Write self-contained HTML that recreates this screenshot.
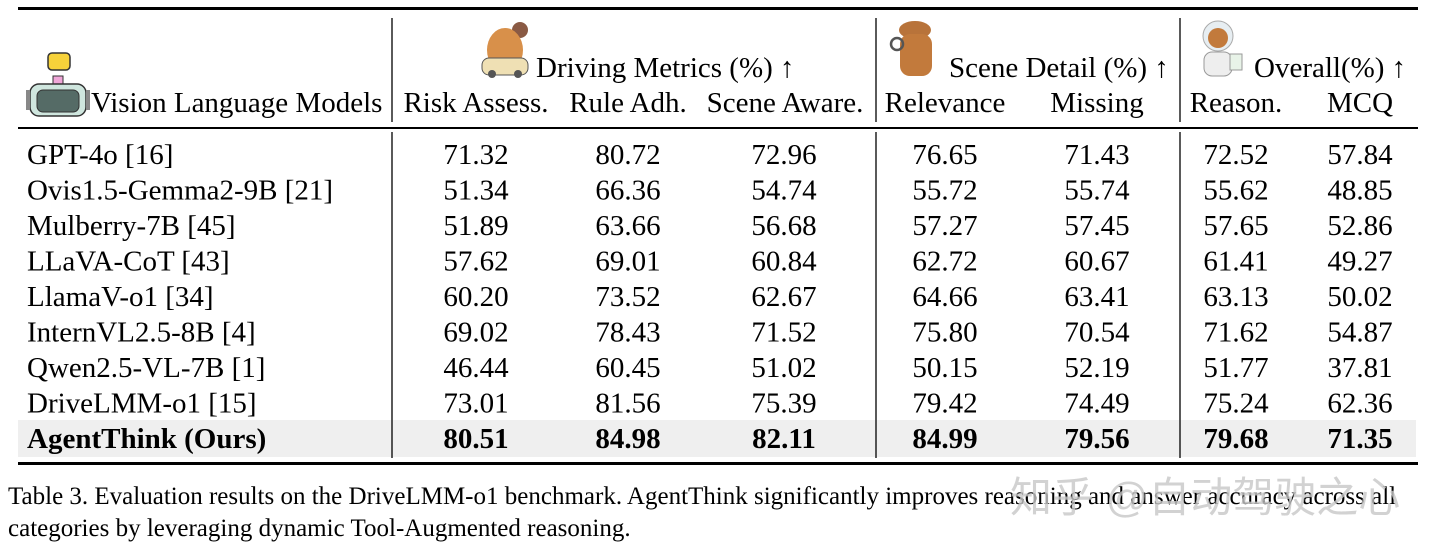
<!DOCTYPE html>
<html><head><meta charset="utf-8"><style>
html,body{margin:0;padding:0;background:#fff;}
body{width:1440px;height:548px;overflow:hidden;position:relative;font-family:"Liberation Serif",serif;}
svg{position:absolute;left:0;top:0;}
svg text{font-family:"Liberation Serif",serif;}
svg text.wm{font-family:"Liberation Sans","Noto Sans CJK SC",sans-serif;}
</style></head><body>
<svg width="1440" height="548" viewBox="0 0 1440 548">
<rect x="18" y="420" width="1398" height="37" fill="#efefef"/>
<rect x="18" y="7" width="1400" height="3" fill="#000"/>
<rect x="18" y="127" width="1400" height="2" fill="#000"/>
<rect x="18" y="462" width="1400" height="3" fill="#000"/>
<g stroke="#000" stroke-width="1.3">
<line x1="392" y1="18" x2="392" y2="122"/><line x1="392" y1="132" x2="392" y2="458"/>
<line x1="876" y1="18" x2="876" y2="122"/><line x1="876" y1="132" x2="876" y2="458"/>
<line x1="1180" y1="18" x2="1180" y2="122"/><line x1="1180" y1="132" x2="1180" y2="458"/>
</g>
<g>
<rect x="48" y="53" width="22" height="17" rx="4" fill="#f7d23a" stroke="#333" stroke-width="1.5"/>
<rect x="53" y="76" width="10" height="8" fill="#f0a6d8" stroke="#333"/>
<rect x="30" y="84" width="56" height="32" rx="9" fill="#cfe6de" stroke="#333" stroke-width="1.5"/>
<rect x="37" y="90" width="42" height="22" rx="6" fill="#556b66" stroke="#333"/>
<rect x="26" y="90" width="4" height="20" fill="#888"/><rect x="86" y="90" width="4" height="20" fill="#888"/>
</g>
<g>
<circle cx="520" cy="30" r="8" fill="#8a5a44"/>
<ellipse cx="505" cy="50" rx="18" ry="22" fill="#d8904a"/>
<rect x="482" y="58" width="46" height="17" rx="7" fill="#efe0b4" stroke="#555"/>
<circle cx="492" cy="74" r="4" fill="#555"/><circle cx="518" cy="74" r="4" fill="#555"/>
</g>
<g>
<ellipse cx="915" cy="30" rx="16" ry="9" fill="#b8733a"/>
<rect x="900" y="34" width="32" height="42" rx="10" fill="#c27a3c"/>
<circle cx="897" cy="44" r="6" fill="none" stroke="#555" stroke-width="2.5"/>
</g>
<g>
<circle cx="1218" cy="36" r="15" fill="#e7eef2" stroke="#aaa"/>
<circle cx="1218" cy="38" r="10" fill="#c27a3c"/>
<rect x="1204" y="52" width="28" height="24" rx="8" fill="#eee" stroke="#999"/>
<rect x="1230" y="54" width="12" height="16" fill="#e8f3e8" stroke="#999"/>
</g>
<g font-size="29" fill="#000">
<text x="91" y="112">Vision Language Models</text>
<text x="536" y="77">Driving Metrics (%) ↑</text>
<text x="949" y="77">Scene Detail (%) ↑</text>
<text x="1254" y="77">Overall(%) ↑</text>
<g text-anchor="middle">
<text x="476" y="112">Risk Assess.</text>
<text x="628" y="112">Rule Adh.</text>
<text x="785" y="112">Scene Aware.</text>
<text x="945" y="112">Relevance</text>
<text x="1097" y="112">Missing</text>
<text x="1236" y="112">Reason.</text>
<text x="1360" y="112">MCQ</text>
</g>
</g>
<g id="body" font-size="29" fill="#000"></g>
<g font-size="25" fill="#000">
<text x="8" y="504">Table 3. Evaluation results on the DriveLMM-o1 benchmark. AgentThink significantly improves reasoning and answer accuracy across all</text>
<text x="8" y="536">categories by leveraging dynamic Tool-Augmented reasoning.</text>
</g>
<text class="wm" x="1010" y="512" font-size="42" fill="#c8c8c8" opacity="0.8">知乎 @自动驾驶之心</text>
</svg>
<script>
const models=["GPT-4o [16]","Ovis1.5-Gemma2-9B [21]","Mulberry-7B [45]","LLaVA-CoT [43]","LlamaV-o1 [34]","InternVL2.5-8B [4]","Qwen2.5-VL-7B [1]","DriveLMM-o1 [15]","AgentThink (Ours)"];
const riskAssess=["71.32","51.34","51.89","57.62","60.20","69.02","46.44","73.01","80.51"];
const ruleAdh=["80.72","66.36","63.66","69.01","73.52","78.43","60.45","81.56","84.98"];
const sceneAware=["72.96","54.74","56.68","60.84","62.67","71.52","51.02","75.39","82.11"];
const relevance=["76.65","55.72","57.27","62.72","64.66","75.80","50.15","79.42","84.99"];
const missing=["71.43","55.74","57.45","60.67","63.41","70.54","52.19","74.49","79.56"];
const reason=["72.52","55.62","57.65","61.41","63.13","71.62","51.77","75.24","79.68"];
const mcq=["57.84","48.85","52.86","49.27","50.02","54.87","37.81","62.36","71.35"];
const cols=[riskAssess,ruleAdh,sceneAware,relevance,missing,reason,mcq];
const colX=[476,628,784,945,1097,1236,1360];
const colNames=['risk-assess','rule-adh','scene-aware','relevance','missing','reason','mcq'];
const NS='http://www.w3.org/2000/svg';
const g=document.getElementById('body');
models.forEach((m,i)=>{
  const y=164+i*35.5;
  const bold=i===models.length-1;
  const t=document.createElementNS(NS,'text');
  t.setAttribute('x',27);t.setAttribute('y',y);
  if(bold)t.setAttribute('font-weight','bold');
  t.textContent=m;
  
  
  g.appendChild(t);
  cols.forEach((c,j)=>{
    const v=document.createElementNS(NS,'text');
    v.setAttribute('x',colX[j]);v.setAttribute('y',y);
    v.setAttribute('text-anchor','middle');
    if(bold)v.setAttribute('font-weight','bold');
    v.textContent=c[i];
    
    
    g.appendChild(v);
  });
});
</script>
</body></html>
